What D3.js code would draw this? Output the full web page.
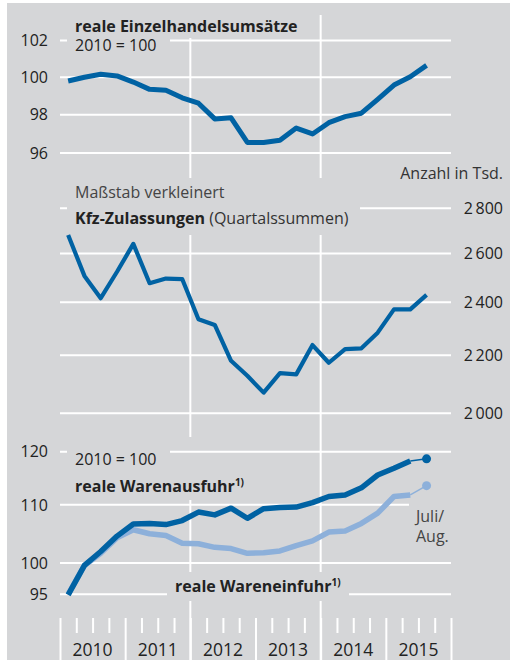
<!DOCTYPE html>
<html>
<head>
<meta charset="utf-8">
<script src="https://cdn.jsdelivr.net/npm/d3@7"></script>
<style>
  body { margin: 0; background: #fff; }
  svg text { font-family: "Open Sans", "Noto Sans", sans-serif; }
</style>
</head>
<body>
<div id="viz"></div>
<script>
// quarterly data, 2010 Q1 .. 2015 Q3
var quarters = ["2010Q1","2010Q2","2010Q3","2010Q4","2011Q1","2011Q2","2011Q3","2011Q4",
                "2012Q1","2012Q2","2012Q3","2012Q4","2013Q1","2013Q2","2013Q3","2013Q4",
                "2014Q1","2014Q2","2014Q3","2014Q4","2015Q1","2015Q2","2015Q3"];
var years = ["2010","2011","2012","2013","2014","2015"];

// reale Einzelhandelsumsaetze, 2010 = 100
var retail = [99.8,100.0,100.16,100.07,99.74,99.35,99.3,98.9,98.61,97.78,97.84,96.55,
              96.55,96.66,97.3,96.99,97.58,97.9,98.08,98.82,99.58,100.03,100.64];
var retailTicks = [96, 98, 100, 102];

// Kfz-Zulassungen, Quartalssummen in Tsd.
var cars = [2680,2506,2416,2523,2641,2476,2495,2493,2334,2312,2180,2127,
            2069,2136,2132,2237,2173,2222,2225,2283,2372,2372,2429];
var carTicks = [2000, 2200, 2400, 2600, 2800];

// reale Warenausfuhr / -einfuhr, 2010 = 100 (bis 2015 Q2, dazu Juli/Aug.)
var exportsQ = [94.9,99.6,101.9,104.5,106.6,106.7,106.5,107.2,108.7,108.2,109.4,107.6,
                109.3,109.5,109.6,110.4,111.5,111.8,113.1,115.5,116.8,118.2];
var importsQ = [95.0,99.6,101.6,104.2,105.6,104.9,104.6,103.3,103.2,102.6,102.4,101.6,
                101.7,102.0,102.9,103.7,105.2,105.4,106.7,108.5,111.5,111.8];
var exportsJulAug = 118.6;
var importsJulAug = 113.5;
var tradeTicks = [95, 100, 110, 120];

var W = 510, H = 660;
var bg = "#d5d6d8", grid = "#ffffff", dark = "#0062a3", light = "#8db0da", ink = "#222";

var svg = d3.select("#viz").append("svg").attr("width", W).attr("height", H);
svg.append("rect").attr("x", 7).attr("y", 3).attr("width", W - 7).attr("height", H - 3).attr("fill", bg);

function qx(q) { return +q.slice(0, 4) + (+q.slice(5) - 0.5) / 4; }

var x = d3.scaleLinear().domain([2010, 2016]).range([60, 451]);
var yTop = d3.scaleLog().domain([96, 102]).range([153, 40.5]);
var yMid = d3.scaleLog().domain([2000, 2800]).range([413.3, 208.3]);
var yBot = d3.scaleLog().domain([95, 120]).range([594.3, 451.7]);

var gVert = svg.append("g"), gMaskA = svg.append("g"), gHor = svg.append("g"),
    gMaskB = svg.append("g"), gData = svg.append("g"), gText = svg.append("g");

function box(g, x0, y0, x1, y1) {
  g.append("rect").attr("x", x0).attr("y", y0).attr("width", x1 - x0).attr("height", y1 - y0).attr("fill", bg);
}

// vertical year lines 2012 / 2014
gVert.selectAll("line").data([2012, 2014]).enter().append("line")
  .attr("x1", d => x(d)).attr("x2", d => x(d)).attr("y1", 15).attr("y2", H)
  .attr("stroke", grid).attr("stroke-width", 2);

// x axis ticks at bottom
var xAxis = d3.axisBottom(x)
  .tickValues(d3.range(2010, 2016.01, 0.25))
  .tickSize(0).tickFormat("");
var ax = gVert.append("g").attr("transform", "translate(0,618)").call(xAxis);
ax.select(".domain").remove();
ax.selectAll(".tick line")
  .attr("stroke", grid).attr("stroke-width", 2)
  .attr("y2", d => Math.abs(d - Math.round(d)) < 1e-6 ? 42 : 15);
gText.selectAll("text.year").data(years).enter().append("text")
  .attr("x", d => x(+d + 0.5)).attr("y", 656)
  .attr("text-anchor", "middle").attr("font-size", 17.5).attr("fill", ink).text(d => d);

// horizontal gridlines
function hgrid(scale, ticks, x1) {
  gHor.append("g").selectAll("line").data(ticks).enter().append("line")
    .attr("x1", 60).attr("x2", x1).attr("y1", d => scale(d)).attr("y2", d => scale(d))
    .attr("stroke", grid).attr("stroke-width", 2);
}
hgrid(yTop, retailTicks, 451);
hgrid(yMid, carTicks, 451);
hgrid(yBot, tradeTicks, 451);

// left tick labels
function leftLabels(scale, ticks) {
  gText.append("g").selectAll("text").data(ticks).enter().append("text")
    .attr("x", 48).attr("y", d => scale(d)).attr("dy", "0.36em")
    .attr("text-anchor", "end").attr("font-size", 16).attr("fill", ink).text(d => d);
}
leftLabels(yTop, retailTicks);
leftLabels(yBot, tradeTicks);
var fmt = d => d3.format(",")(d).replace(",", "\u2009");
gText.append("g").selectAll("text").data(carTicks).enter().append("text")
  .attr("x", 503).attr("y", d => yMid(d)).attr("dy", "0.36em")
  .attr("text-anchor", "end").attr("font-size", 16).attr("fill", ink).text(fmt);

// label masks
box(gMaskA, 67, 15, 305, 38);     // top title
box(gMaskA, 67, 437, 252, 500);   // reale Warenausfuhr
box(gMaskB, 67, 38, 170, 56);     // 2010 = 100 (top)
box(gMaskB, 67, 178, 360, 235);   // Massstab / Kfz
box(gMaskB, 67, 440, 170, 470);   // 2010 = 100 (bottom)
box(gMaskB, 167, 572, 349, 601);  // reale Wareneinfuhr
box(gMaskB, 409, 497, 456, 548);  // Juli/Aug.

// data lines
function drawLine(vals, scale, color, w) {
  var line = d3.line().x((d, i) => x(qx(quarters[i]))).y(d => scale(d));
  gData.append("path").datum(vals).attr("d", line)
    .attr("fill", "none").attr("stroke", color).attr("stroke-width", w)
    .attr("stroke-linejoin", "round");
}
drawLine(retail, yTop, dark, 5);
drawLine(cars, yMid, dark, 4.2);
drawLine(importsQ, yBot, light, 5.5);
drawLine(exportsQ, yBot, dark, 5.5);

function tail(vals, last, color) {
  var n = vals.length;
  var x0 = x(qx(quarters[n - 1])), x1 = x(qx(quarters[n]));
  gData.append("line").attr("x1", x0).attr("x2", x1)
    .attr("y1", yBot(vals[n - 1])).attr("y2", yBot(last))
    .attr("stroke", color).attr("stroke-width", 1.5);
  gData.append("circle").attr("cx", x1).attr("cy", yBot(last)).attr("r", 4.5).attr("fill", color);
}
tail(importsQ, importsJulAug, light);
tail(exportsQ, exportsJulAug, dark);

// texts
function txt(x0, y0, s, opt) {
  opt = opt || {};
  return gText.append("text").attr("x", x0).attr("y", y0)
    .attr("font-size", opt.size || 16).attr("font-weight", opt.bold ? "bold" : "normal")
    .attr("fill", opt.color || ink).attr("text-anchor", opt.anchor || "start").text(s);
}
txt(75, 31.5, "reale Einzelhandelsumsätze", {bold: true});
txt(75, 50.5, "2010 = 100");
txt(503, 179, "Anzahl in Tsd.", {anchor: "end", color: "#333"});
txt(75, 197.5, "Maßstab verkleinert", {color: "#444"});
var kfz = txt(75, 224, "Kfz-Zulassungen", {bold: true});
kfz.append("tspan").attr("font-weight", "normal").attr("fill", "#333").text(" (Quartalssummen)");
txt(75, 465, "2010 = 100");
var ausf = txt(75, 492, "reale Warenausfuhr", {bold: true});
ausf.append("tspan").attr("font-size", 10).attr("dy", -6).text("1)");
var einf = txt(175, 592, "reale Wareneinfuhr", {bold: true});
einf.append("tspan").attr("font-size", 10).attr("dy", -6).text("1)");
txt(416, 522, "Juli/", {color: "#444"});
txt(416, 542, "Aug.", {color: "#444"});
</script>
</body>
</html>
